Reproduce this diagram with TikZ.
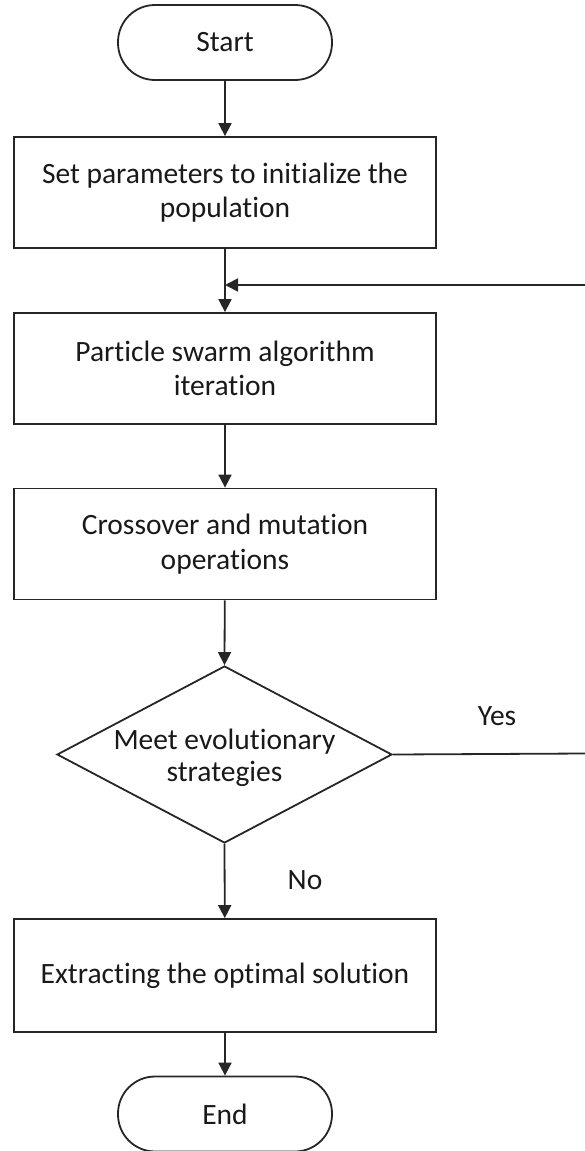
\documentclass[tikz,border=0pt]{standalone}
\usepackage{fontspec}
\setmainfont{Carlito}[Ligatures=NoCommon]
\usetikzlibrary{shapes.geometric,arrows.meta}
\begin{document}
\begin{tikzpicture}[x=1pt,y=-1pt,
  every node/.style={font=\fontsize{29.5}{34.5}\selectfont, text=black!90},
  line/.style={draw=black!85, line width=1.8pt},
  flow/.style={line, -{Triangle[length=13pt,width=13pt]}},
  terminal/.style={line, rectangle, rounded corners=37pt, minimum width=214pt, minimum height=75pt, inner sep=0pt},
  process/.style={line, rectangle, minimum width=422pt, minimum height=111pt, align=center, inner sep=0pt},
  decision/.style={line, diamond, minimum width=335pt, minimum height=177pt, inner sep=0pt},
  tag/.style={inner sep=0pt, align=center}]
\useasboundingbox (0,0) rectangle (585,1151);

% flow chart boxes
\node[terminal] (start) at (225,42.5) {Start};
\node[process] (init) at (225,192.5) {Set parameters to initialize the\\population};
\node[process] (pso) at (225,368.5) {Particle swarm algorithm\\iteration};
\node[process] (cross) at (225,544) {Crossover and mutation\\operations};
\node[decision] (meet) at (224.5,754.5) {};
\node[tag, font=\fontsize{29.5}{32}\selectfont] (meettext) at (224.5,758) {Meet evolutionary\\strategies};
\node[process, minimum height=113pt] (extract) at (225,975.5) {Extracting the optimal solution};
\node[terminal] (end) at (225,1114) {End};

% loop ends at the right border
\coordinate (yesend) at (585,753.5);
\coordinate (loopstart) at (585,285);
\coordinate (loopjoin) at (init.south |- loopstart);

% connectors
\draw[flow] (start) -- (init);
\draw[flow] (init) -- (pso);
\draw[flow] (pso) -- (cross);
\draw[flow] (cross) -- (meet.north);
\draw[flow] (meet.south) -- (extract);
\draw[flow] (extract) -- (end);
\draw[line] (meet.east) -- (yesend);
\draw[flow] (loopstart) -- (loopjoin);

% branch labels
\node[tag] (yes) at (497,716) {Yes};
\node[tag] (no) at (305,880) {No};
\end{tikzpicture}
\end{document}
